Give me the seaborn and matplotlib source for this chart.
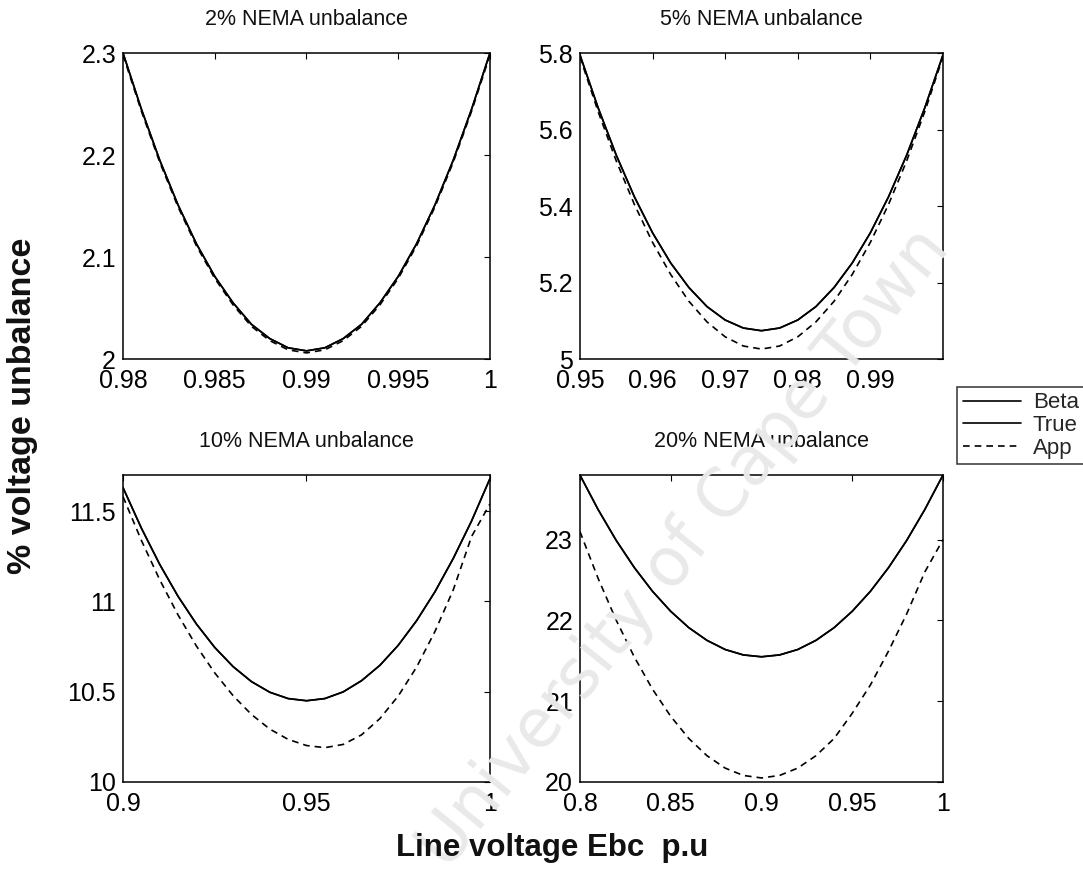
import numpy as np
import pandas as pd
import matplotlib
matplotlib.use("Agg")
import matplotlib.pyplot as plt
import seaborn as sns
from matplotlib.lines import Line2D

# ---- data: % voltage unbalance vs line voltage Ebc (p.u) ----
x_2 = [0.980, 0.981, 0.982, 0.983, 0.984, 0.985, 0.986, 0.987, 0.988, 0.989, 0.990,
       0.991, 0.992, 0.993, 0.994, 0.995, 0.996, 0.997, 0.998, 0.999, 1.000]
beta_2 = [2.300, 2.245, 2.195, 2.151, 2.113, 2.081, 2.055, 2.034, 2.020, 2.011, 2.008,
          2.011, 2.020, 2.034, 2.055, 2.081, 2.113, 2.151, 2.195, 2.245, 2.300]
true_2 = beta_2
app_2 = [2.298, 2.243, 2.193, 2.149, 2.111, 2.079, 2.053, 2.032, 2.018, 2.009, 2.006,
         2.009, 2.018, 2.032, 2.053, 2.079, 2.111, 2.149, 2.193, 2.243, 2.298]

x_5 = [0.9500, 0.9525, 0.9550, 0.9575, 0.9600, 0.9625, 0.9650, 0.9675, 0.9700, 0.9725, 0.9750,
       0.9775, 0.9800, 0.9825, 0.9850, 0.9875, 0.9900, 0.9925, 0.9950, 0.9975, 1.0000]
beta_5 = [5.795, 5.657, 5.533, 5.424, 5.330, 5.251, 5.187, 5.137, 5.102, 5.081, 5.074,
          5.081, 5.102, 5.137, 5.187, 5.251, 5.330, 5.424, 5.533, 5.657, 5.795]
true_5 = beta_5
app_5 = [5.790, 5.647, 5.518, 5.404, 5.305, 5.221, 5.151, 5.097, 5.058, 5.034, 5.026,
         5.034, 5.058, 5.097, 5.151, 5.221, 5.305, 5.404, 5.518, 5.647, 5.790]

x_10 = [0.900, 0.905, 0.910, 0.915, 0.920, 0.925, 0.930, 0.935, 0.940, 0.945, 0.950,
        0.955, 0.960, 0.965, 0.970, 0.975, 0.980, 0.985, 0.990, 0.995, 1.000]
beta_10 = [11.630, 11.406, 11.205, 11.028, 10.875, 10.745, 10.639, 10.556, 10.497, 10.462, 10.450,
           10.462, 10.499, 10.561, 10.646, 10.757, 10.893, 11.053, 11.238, 11.446, 11.680]
true_10 = beta_10
app_10 = [11.580, 11.338, 11.120, 10.925, 10.753, 10.604, 10.478, 10.374, 10.293, 10.236, 10.202,
          10.190, 10.208, 10.261, 10.351, 10.476, 10.636, 10.833, 11.064, 11.360, 11.540]

x_20 = [0.80, 0.81, 0.82, 0.83, 0.84, 0.85, 0.86, 0.87, 0.88, 0.89, 0.90,
        0.91, 0.92, 0.93, 0.94, 0.95, 0.96, 0.97, 0.98, 0.99, 1.00]
beta_20 = [23.800, 23.373, 22.990, 22.653, 22.360, 22.113, 21.910, 21.753, 21.640, 21.573, 21.550,
           21.573, 21.640, 21.753, 21.910, 22.113, 22.360, 22.653, 22.990, 23.373, 23.800]
true_20 = beta_20
app_20 = [23.100, 22.521, 22.002, 21.545, 21.148, 20.813, 20.538, 20.325, 20.172, 20.081, 20.050,
          20.081, 20.172, 20.325, 20.538, 20.850, 21.200, 21.620, 22.080, 22.600, 23.000]

titles = ["2% NEMA unbalance", "5% NEMA unbalance", "10% NEMA unbalance", "20% NEMA unbalance"]
series_names = ["Beta", "True", "App"]

panels = [
    (x_2, beta_2, true_2, app_2, (0.98, 1.0), (2.0, 2.3),
     [0.98, 0.985, 0.99, 0.995, 1.0], ["0.98", "0.985", "0.99", "0.995", "1"],
     [2.0, 2.1, 2.2, 2.3], ["2", "2.1", "2.2", "2.3"]),
    (x_5, beta_5, true_5, app_5, (0.95, 1.0), (5.0, 5.8),
     [0.95, 0.96, 0.97, 0.98, 0.99], ["0.95", "0.96", "0.97", "0.98", "0.99"],
     [5.0, 5.2, 5.4, 5.6, 5.8], ["5", "5.2", "5.4", "5.6", "5.8"]),
    (x_10, beta_10, true_10, app_10, (0.9, 1.0), (10.0, 11.7),
     [0.9, 0.95, 1.0], ["0.9", "0.95", "1"],
     [10.0, 10.5, 11.0, 11.5], ["10", "10.5", "11", "11.5"]),
    (x_20, beta_20, true_20, app_20, (0.8, 1.0), (20.0, 23.8),
     [0.8, 0.85, 0.9, 0.95, 1.0], ["0.8", "0.85", "0.9", "0.95", "1"],
     [20, 21, 22, 23], ["20", "21", "22", "23"]),
]

sns.set_theme(style="white")
plt.rcParams["font.family"] = ["Liberation Sans", "DejaVu Sans"]

fig = plt.figure(figsize=(10.83, 8.75), dpi=100)
fig.patch.set_facecolor("white")

# repository watermark, drawn behind the transparent axes
fig.text(0.632, 0.373, "University of Cape Town", rotation=51, ha="center", va="center",
         fontsize=48, color="#e9e9e9", zorder=0, family="DejaVu Sans")

# axes boxes in figure fractions: [left, bottom, width, height]
boxes = [
    [0.1136, 0.5897, 0.3388, 0.3497],
    [0.5355, 0.5897, 0.3352, 0.3497],
    [0.1136, 0.1063, 0.3388, 0.3508],
    [0.5355, 0.1063, 0.3352, 0.3508],
]

palette = {"Beta": "black", "True": "black", "App": "black"}
dashes = {"Beta": "", "True": "", "App": (4, 3)}

for box, title, (xv, b, t, a, xl, yl, xt, xtl, yt, ytl) in zip(boxes, titles, panels):
    ax = fig.add_axes(box)
    ax.set_facecolor("none")
    df = pd.DataFrame({
        "E": list(xv) * 3,
        "U": list(b) + list(t) + list(a),
        "curve": ["Beta"] * len(xv) + ["True"] * len(xv) + ["App"] * len(xv),
    })
    sns.lineplot(data=df, x="E", y="U", hue="curve", style="curve",
                 palette=palette, dashes=dashes, hue_order=series_names,
                 style_order=series_names, linewidth=1.2, ax=ax, legend=False,
                 sort=False, estimator=None)
    ax.set_xlim(*xl)
    ax.set_ylim(*yl)
    ax.set_xticks(xt)
    ax.set_xticklabels(xtl)
    ax.set_yticks(yt)
    ax.set_yticklabels(ytl)
    ax.set_xlabel("")
    ax.set_ylabel("")
    ax.set_title(title, fontsize=15.5, pad=20, color="#111111")
    ax.tick_params(axis="both", direction="in", length=4, width=0.8, top=True, right=True,
                   labelsize=18, colors="black")
    ax.tick_params(axis="x", pad=7)
    ax.tick_params(axis="y", pad=5)
    for s in ax.spines.values():
        s.set_color("black")
        s.set_linewidth(1.1)

fig.text(0.021, 0.536, "% voltage unbalance", rotation=90, ha="center", va="center",
         fontsize=24.5, fontweight="bold", color="#111111")
fig.text(0.51, 0.031, "Line voltage Ebc  p.u", ha="center", va="center",
         fontsize=22.5, fontweight="bold", color="#111111")

# legend box at the right edge between the rows
handles = [Line2D([], [], color="black", lw=1.2),
           Line2D([], [], color="black", lw=1.2),
           Line2D([], [], color="black", lw=1.2, dashes=(4, 3))]
leg = fig.legend(handles, series_names, loc="upper left",
                 bbox_to_anchor=(0.884, 0.558), frameon=True, fancybox=False,
                 fontsize=16, handlelength=2.6, handletextpad=0.55,
                 borderpad=0.25, labelspacing=0.08, borderaxespad=0)
leg.get_frame().set_edgecolor("black")
leg.get_frame().set_linewidth(1.1)

fig.savefig("out.png", dpi=100)
